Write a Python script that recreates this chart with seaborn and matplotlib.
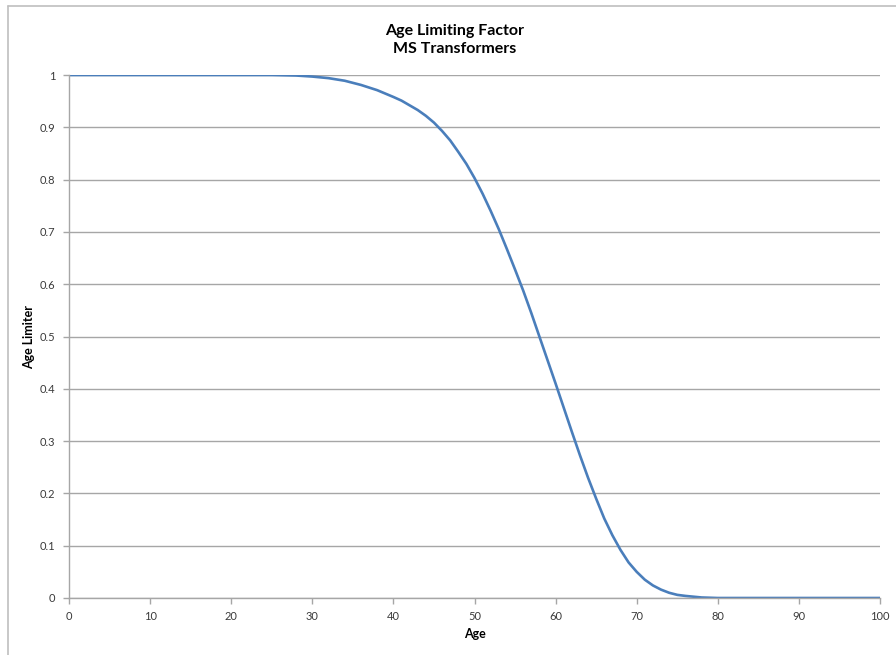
import matplotlib
matplotlib.use("Agg")
import matplotlib.pyplot as plt
import seaborn as sns
import pandas as pd

# Data
ages = [0, 10, 20, 25, 28, 30, 32, 34, 36, 38, 40, 41, 42, 43, 44, 45, 46, 47,
        48, 49, 50, 51, 52, 53, 54, 55, 56, 57, 58, 59, 60, 61, 62, 63, 64, 65,
        66, 67, 68, 69, 70, 71, 72, 73, 74, 75, 76, 78, 80, 90, 100]
limiter = [1.0, 1.0, 1.0, 1.0, 0.999, 0.997, 0.994, 0.989, 0.981, 0.971, 0.958,
           0.951, 0.942, 0.933, 0.922, 0.909, 0.893, 0.875, 0.853, 0.83, 0.803,
           0.773, 0.74, 0.705, 0.667, 0.628, 0.588, 0.545, 0.5, 0.455, 0.41,
           0.364, 0.318, 0.273, 0.23, 0.19, 0.152, 0.12, 0.092, 0.068, 0.05,
           0.035, 0.024, 0.016, 0.01, 0.006, 0.004, 0.001, 0.0, 0.0, 0.0]
x_ticks = [0, 10, 20, 30, 40, 50, 60, 70, 80, 90, 100]
y_ticks = [0, 0.1, 0.2, 0.3, 0.4, 0.5, 0.6, 0.7, 0.8, 0.9, 1]
y_tick_labels = ["0", "0.1", "0.2", "0.3", "0.4", "0.5", "0.6", "0.7", "0.8", "0.9", "1"]
title_text = "Age Limiting Factor\nMS Transformers"

df = pd.DataFrame({"Age": ages, "Age Limiter": limiter})

sns.set_theme(style="white")
plt.rcParams["font.family"] = ["Lato", "DejaVu Sans"]

W, H = 896, 655
fig = plt.figure(figsize=(W / 100, H / 100), dpi=100)
fig.patch.set_facecolor("white")

# outer chart border (only left and top visible in the crop)
fig.add_artist(plt.Line2D([8 / W, 8 / W], [0, 1 - 6 / H], color="#bfbfbf", lw=1.2,
                          transform=fig.transFigure))
fig.add_artist(plt.Line2D([8 / W, 1], [1 - 6 / H, 1 - 6 / H], color="#bfbfbf", lw=1.2,
                          transform=fig.transFigure))

left, right, top, bottom = 69, 880, 75, 598
ax = fig.add_axes([left / W, 1 - bottom / H, (right - left) / W, (bottom - top) / H])

sns.lineplot(data=df, x="Age", y="Age Limiter", ax=ax, color="#4a7ebb", linewidth=1.9)

ax.set_xlim(0, 100)
ax.set_ylim(0, 1)
ax.set_xticks(x_ticks)
ax.set_xticklabels([str(t) for t in x_ticks])
ax.set_yticks(y_ticks)
ax.set_yticklabels(y_tick_labels)

ax.grid(axis="y", color="#a6a6a6", linewidth=1.0)
ax.grid(axis="x", visible=False)
ax.set_axisbelow(True)

for s in ["top", "right"]:
    ax.spines[s].set_visible(False)
for s in ["left", "bottom"]:
    ax.spines[s].set_visible(True)
    ax.spines[s].set_color("#a6a6a6")
    ax.spines[s].set_linewidth(1.0)

ax.tick_params(axis="both", which="major", length=4, width=1.0, color="#a6a6a6",
               labelsize=8, labelcolor="#3a3a3a", direction="out")
ax.tick_params(axis="y", pad=6)
ax.tick_params(axis="x", pad=5)
ax.tick_params(left=True, bottom=True)

ax.set_xlabel("Age", fontsize=9, fontweight="bold", color="black", labelpad=5)
ax.set_ylabel("Age Limiter", fontsize=9, fontweight="bold", color="black", labelpad=3)

fig.text(455 / W, 1 - 40 / H, title_text, ha="center", va="center", fontsize=11.5,
         fontweight="bold", color="black", linespacing=1.35)

fig.savefig("out.png", dpi=100, facecolor="white")
